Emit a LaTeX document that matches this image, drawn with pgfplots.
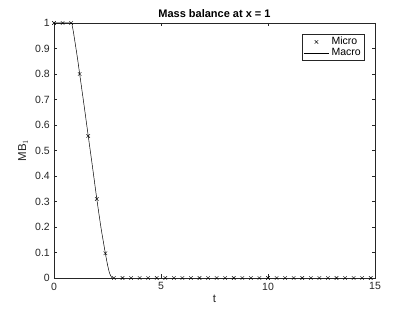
\documentclass[border=0pt]{standalone}
\usepackage{pgfplots}
\pgfplotsset{compat=1.18}
\usepackage{fontspec}
\setmainfont{Liberation Sans}
\definecolor{ax}{gray}{0.15}
\pgfplotsset{
 linelegend/.style={legend image code/.code={\draw[##1] (0cm,0cm) -- (0.9cm,0cm);}},
 marklegend/.style={legend image code/.code={\draw[##1] plot coordinates {(0.45cm,0cm)};}}
}
\begin{document}
\fontsize{10.5}{12}\selectfont
\begin{tikzpicture}
\begin{axis}[name=ax,
  scale only axis, width=321pt, height=255pt,
  xmin=0, xmax=15, ymin=0, ymax=1,
  xtick={0,5,10,15}, ytick={0,0.1,...,1.0},
  yticklabels={0,0.1,0.2,0.3,0.4,0.5,0.6,0.7,0.8,0.9,1},
  tick align=inside, major tick length=3.5pt,
  axis line style={ax, line width=0.5pt},
  tick style={ax, line width=0.5pt},
  ticklabel style={ax, font=\fontsize{10.5}{12}\selectfont},
  xticklabel style={yshift=-1pt},
  yticklabel style={xshift=-0.5pt},
  /pgf/number format/assume math mode=true,
  title={\textbf{Mass balance at x = 1}},
  title style={font=\fontsize{11}{13}\selectfont, yshift=-4.5pt},
  xlabel={t}, ylabel={MB$_{\fontsize{8}{9}\selectfont 1}$},
  xlabel style={ax, font=\fontsize{11.5}{13}\selectfont, yshift=2pt},
  ylabel style={ax, font=\fontsize{11.5}{13}\selectfont, yshift=0pt},
  legend style={at={(0.966,0.957)}, anchor=north east, draw=ax, line width=0.4pt,
    font=\fontsize{10.5}{12}\selectfont, inner sep=1.2pt, row sep=-2pt},
  legend cell align=left,
]
\addplot[only marks, mark=x, mark size=2.5pt, black, line width=0.4pt, marklegend]
coordinates {
(0,1) (0.4,1) (0.8,1) (1.2,0.80) (1.6,0.557) (2.0,0.31) (2.4,0.097)
(2.8,0) (3.2,0) (3.6,0) (4.0,0) (4.4,0) (4.8,0) (5.2,0) (5.6,0) (6.0,0)
(6.4,0) (6.8,0) (7.2,0) (7.6,0) (8.0,0) (8.4,0) (8.8,0) (9.2,0) (9.6,0)
(10.0,0) (10.4,0) (10.8,0) (11.2,0) (11.6,0) (12.0,0) (12.4,0) (12.8,0)
(13.2,0) (13.6,0) (14.0,0) (14.4,0) (14.8,0)
};
\addlegendentry{Micro}
\addplot[black, line width=0.5pt, smooth, tension=0.4, linelegend] coordinates {
(0,1) (0.8,1) (0.85,0.99) (0.9,0.968) (1.0,0.915) (1.1,0.86) (1.2,0.80)
(1.4,0.68) (1.6,0.557) (1.8,0.435) (2.0,0.31) (2.2,0.195) (2.4,0.097)
(2.5,0.052) (2.6,0.018) (2.7,0.002) (2.76,0)
};
\addlegendentry{Macro}
\addplot[black, line width=0.5pt, forget plot] coordinates {(2.76,0) (15,0)};
\end{axis}
\pgfresetboundingbox
\useasboundingbox (ax.south west) ++(-54pt,-34pt) rectangle ([xshift=40pt,yshift=23pt]ax.north east);
\end{tikzpicture}
\end{document}
